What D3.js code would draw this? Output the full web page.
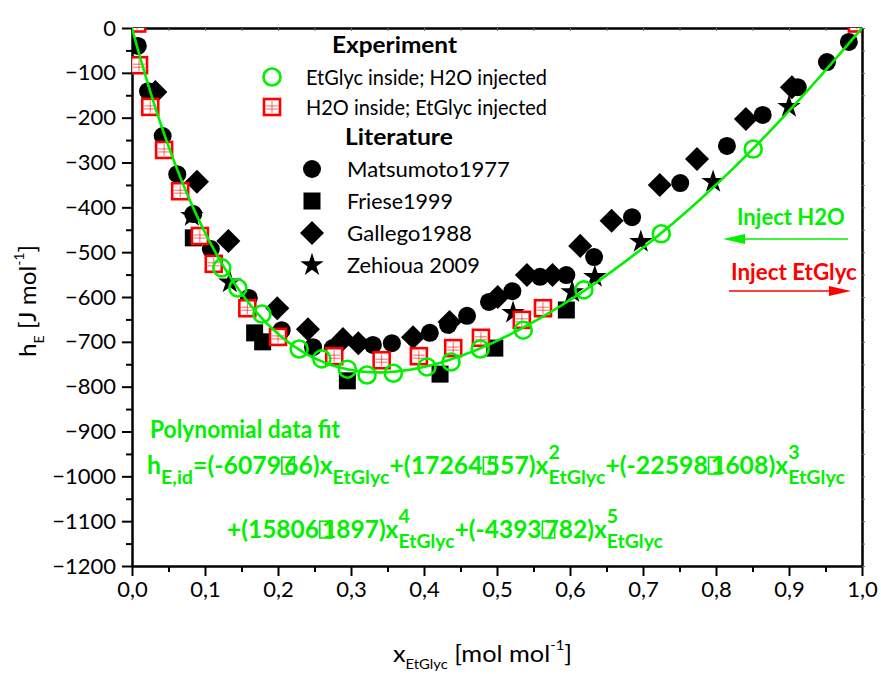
<!DOCTYPE html>
<html>
<head>
<meta charset="utf-8">
<script src="https://cdn.jsdelivr.net/npm/d3@7"></script>
<style>
  body { margin: 0; background: #fff; }
  svg { display: block; }
  text { white-space: pre; }
</style>
</head>
<body>
<svg id="chart" width="881" height="674"></svg>
<script>
// ---- Experimental excess enthalpy data (x in mol/mol, hE in J/mol) ----
const expEtGlycInside = [ // EtGlyc inside; H2O injected
  [0.123,-535],[0.145,-580],[0.178,-638],[0.229,-716],[0.260,-738],[0.295,-761],
  [0.322,-774],[0.358,-770],[0.404,-756],[0.437,-745],[0.477,-716],[0.536,-674],
  [0.619,-584],[0.725,-459],[0.851,-270]
];
const expH2OInside = [ // H2O inside; EtGlyc injected
  [0.007,10],[0.0096,-83],[0.025,-176],[0.044,-272],[0.066,-364],[0.093,-464],
  [0.112,-526],[0.158,-625],[0.200,-689],[0.277,-732],[0.342,-741],[0.393,-732],
  [0.440,-714],[0.478,-691],[0.534,-651],[0.563,-625],[0.993,10]
];
// ---- Literature data ----
const matsumoto1977 = [
  [0.008,-40],[0.022,-141],[0.042,-241],[0.062,-326],[0.084,-415],[0.108,-493],
  [0.160,-602],[0.205,-674],[0.248,-712],[0.275,-714],[0.330,-707],[0.356,-703],
  [0.408,-680],[0.433,-662],[0.459,-642],[0.489,-611],[0.521,-587],[0.559,-555],
  [0.595,-551],[0.633,-511],[0.685,-422],[0.751,-346],[0.815,-263],[0.864,-194],
  [0.912,-132],[0.952,-76],[0.982,-31]
];
const friese1999 = [
  [0.084,-468],[0.168,-680],[0.179,-700],[0.295,-787],[0.422,-772],[0.497,-714],[0.595,-629]
];
const gallego1988 = [
  [0.032,-143],[0.089,-343],[0.132,-475],[0.199,-625],[0.241,-672],[0.289,-694],
  [0.310,-703],[0.385,-690],[0.435,-656],[0.501,-600],[0.541,-551],[0.576,-551],
  [0.614,-486],[0.657,-430],[0.723,-350],[0.774,-292],[0.841,-203],[0.904,-132]
];
const zehioua2009 = [
  [0.082,-419],[0.134,-567],[0.522,-635],[0.603,-589],[0.634,-555],[0.697,-477],
  [0.796,-343],[0.900,-176]
];
// ---- Fifth-order polynomial fit hE = sum a_i x^i ----
const fitCoeffs = [-6079, 17264, -22598, 15806, -4393];
// ---- Axis ticks ----
const xMajor = [0,0.1,0.2,0.3,0.4,0.5,0.6,0.7,0.8,0.9,1.0];
const xTickLabels = ["0,0","0,1","0,2","0,3","0,4","0,5","0,6","0,7","0,8","0,9","1,0"];
const xMinor = [0.05,0.15,0.25,0.35,0.45,0.55,0.65,0.75,0.85,0.95];
const yMajor = [0,-100,-200,-300,-400,-500,-600,-700,-800,-900,-1000,-1100,-1200];
const yMinor = [-50,-150,-250,-350,-450,-550,-650,-750,-850,-950,-1050,-1150];

const GREEN = "#00f000", RED = "#ff0000";
const FONT = "Lato, 'Open Sans', sans-serif";

const svg = d3.select("#chart");
const x = d3.scaleLinear().domain([0, 1]).range([132, 862]);
const y = d3.scaleLinear().domain([-1200, 0]).range([566, 28]);

svg.append("defs").append("clipPath").attr("id", "plotClip")
  .append("rect").attr("x", x(0)).attr("y", y(0))
  .attr("width", x(1) - x(0)).attr("height", y(-1200) - y(0));

// ---- Axes ----
function styleAxis(g) {
  g.selectAll("path.domain").attr("stroke", "#000").attr("stroke-width", 2.5);
  g.selectAll(".tick line").attr("stroke", "#000").attr("stroke-width", 2);
  g.selectAll(".tick text").attr("fill", "#000").style("font-family", FONT).style("font-size", "22px");
}
const gx = svg.append("g").attr("transform", `translate(0,${y(-1200)})`)
  .call(d3.axisBottom(x).tickValues(xMajor).tickSize(10).tickSizeOuter(0).tickPadding(5)
    .tickFormat((d, i) => xTickLabels[i]));
styleAxis(gx);
const gxm = svg.append("g").attr("transform", `translate(0,${y(-1200)})`)
  .call(d3.axisBottom(x).tickValues(xMinor).tickSize(6).tickSizeOuter(0).tickFormat(""));
styleAxis(gxm); gxm.select("path.domain").remove();

const gy = svg.append("g").attr("transform", `translate(${x(0)},0)`)
  .call(d3.axisLeft(y).tickValues(yMajor).tickSize(10).tickSizeOuter(0).tickPadding(6)
    .tickFormat(d3.format("d")));
styleAxis(gy);
const gym = svg.append("g").attr("transform", `translate(${x(0)},0)`)
  .call(d3.axisLeft(y).tickValues(yMinor).tickSize(6).tickSizeOuter(0).tickFormat(""));
styleAxis(gym); gym.select("path.domain").remove();

// top and right frame with small ticks
const gt = svg.append("g").attr("transform", `translate(0,${y(0)})`)
  .call(d3.axisTop(x).tickValues(xMajor.concat(xMinor)).tickSize(-3).tickSizeOuter(0).tickFormat(""));
styleAxis(gt); gt.selectAll(".tick line").attr("stroke-width", 1).attr("stroke", "#666");
const gr = svg.append("g").attr("transform", `translate(${x(1)},0)`)
  .call(d3.axisRight(y).tickValues(yMajor.concat(yMinor)).tickSize(3).tickSizeOuter(0).tickFormat(""));
styleAxis(gr); gr.selectAll(".tick line").attr("stroke-width", 1).attr("stroke", "#666");

// ---- Marker helpers ----
const sym = {
  circle: d3.symbol().type(d3.symbolCircle).size(Math.PI * 9 * 9),
  square: d3.symbol().type(d3.symbolSquare).size(17 * 17),
  diamond: d3.symbol().type(d3.symbolSquare).size(17 * 17),
  star: d3.symbol().type(d3.symbolStar).size(170)
};
function drawBlack(g, data, kind) {
  g.selectAll(null).data(data).enter().append("path")
    .attr("d", sym[kind])
    .attr("transform", d => `translate(${x(d[0])},${y(d[1])})` + (kind === "diamond" ? " rotate(45)" : ""))
    .attr("fill", "#000");
}
function drawRedSquare(g, cx, cy) {
  const s = g.append("g").attr("transform", `translate(${cx},${cy})`);
  s.append("rect").attr("x", -8).attr("y", -8).attr("width", 16).attr("height", 16)
    .attr("fill", "#fff").attr("stroke", RED).attr("stroke-width", 2.6);
  s.append("line").attr("x1", 0).attr("x2", 0).attr("y1", -6).attr("y2", 6)
    .attr("stroke", RED).attr("stroke-width", 1).attr("opacity", 0.6);
  s.append("line").attr("x1", -6).attr("x2", 6).attr("y1", -1).attr("y2", -1)
    .attr("stroke", RED).attr("stroke-width", 1).attr("opacity", 0.6);
  s.append("line").attr("x1", -6).attr("x2", 6).attr("y1", 2).attr("y2", 2)
    .attr("stroke", RED).attr("stroke-width", 1).attr("opacity", 0.6);
}
function drawGreenCircle(g, cx, cy) {
  g.append("circle").attr("cx", cx).attr("cy", cy).attr("r", 8.5)
    .attr("fill", "none").attr("stroke", GREEN).attr("stroke-width", 2.6);
}

// ---- Data layer ----
const plot = svg.append("g").attr("clip-path", "url(#plotClip)");
drawBlack(plot, gallego1988, "diamond");
drawBlack(plot, friese1999, "square");
drawBlack(plot, zehioua2009, "star");
drawBlack(plot, matsumoto1977, "circle");
expH2OInside.forEach(d => drawRedSquare(plot, x(d[0]), y(d[1])));
expEtGlycInside.forEach(d => drawGreenCircle(plot, x(d[0]), y(d[1])));

const poly = t => fitCoeffs.reduce((s, a, i) => s + a * Math.pow(t, i + 1), 0);
const curve = d3.range(0, 1.0001, 0.0025).map(t => [t, poly(t)]);
plot.append("path").datum(curve)
  .attr("d", d3.line().x(d => x(d[0])).y(d => y(d[1])))
  .attr("fill", "none").attr("stroke", GREEN).attr("stroke-width", 2.6);

// ---- Rich text layout (sub/superscripts), fitted to a target width ----
// {box:1} draws the empty glyph box that the ± sign fell back to.
function richLine(parent, x0, base, pieces, opt) {
  const g = parent.append("g");
  const size = opt.size, small = opt.small || size * 0.8;
  const weight = opt.weight || "normal";
  const fill = opt.fill || "#000";
  let cx = x0;
  const put = (txt, px, py, fs) => g.append("text").attr("x", px).attr("y", py)
    .attr("fill", fill).style("font-family", FONT).style("font-size", fs + "px")
    .style("font-weight", weight).text(txt);
  pieces.forEach(p => {
    if (typeof p === "string") {
      const t = put(p, cx, base, size); cx += t.node().getComputedTextLength();
    } else if (p.box) {
      g.append("rect").attr("x", cx + size * 0.03).attr("y", base - size * 0.7)
        .attr("width", size * 0.5).attr("height", size * 0.7)
        .attr("fill", "none").attr("stroke", fill).attr("stroke-width", 1.6);
      cx += size * 0.12;
    } else {
      let w = 0;
      if (p.sup) { const t = put(p.sup, cx, base - size * (opt.supRise || 0.6), small); w = Math.max(w, t.node().getComputedTextLength()); }
      if (p.sub) { const t = put(p.sub, cx, base + size * (opt.subDrop || 0.42), small); w = Math.max(w, t.node().getComputedTextLength()); }
      cx += w;
    }
  });
  if (opt.width) {
    const k = opt.width / (cx - x0);
    g.attr("transform", `translate(${x0},0) scale(${k},1) translate(${-x0},0)`);
  }
  return g;
}

// ---- Axis titles ----
richLine(svg, 393, 662, ["x", {sub: "EtGlyc"}, " [mol mol", {sup: "-1"}, "]"],
  {size: 24, small: 14, width: 179, subDrop: 0.3, supRise: 0.5});
const yt = svg.append("g").attr("transform", "translate(36,0) rotate(-90)");
richLine(yt, -357, 0, ["h", {sub: "E"}, " [J mol", {sup: "-1"}, "]"],
  {size: 24, small: 14, width: 112, subDrop: 0.35, supRise: 0.5});

// ---- Legend ----
const legend = svg.append("g");
const legText = (tx, ty, s, w, bold) => richLine(legend, tx, ty, [s],
  {size: 22, weight: bold ? "bold" : "normal", width: w});
legText(332, 53, "Experiment", 125, true);
drawGreenCircle(legend, 272, 77);
legText(306, 85, "EtGlyc inside; H2O injected", 241);
drawRedSquare(legend, 272, 107);
legText(306, 115, "H2O inside; EtGlyc injected", 241);
legText(345, 145, "Literature", 108, true);
const legSym = [["circle", 169, "Matsumoto1977", 163], ["square", 201, "Friese1999", 106],
                ["diamond", 233, "Gallego1988", 125], ["star", 265, "Zehioua 2009", 133]];
legSym.forEach(([k, ly, label, w]) => {
  legend.append("path").attr("d", sym[k])
    .attr("transform", `translate(312,${ly})` + (k === "diamond" ? " rotate(45)" : ""))
    .attr("fill", "#000");
  legText(347, ly + 8, label, w);
});

// ---- Injection direction arrows ----
richLine(svg, 737, 225, ["Inject H2O"], {size: 22, weight: "bold", fill: GREEN, width: 108});
svg.append("line").attr("x1", 848).attr("x2", 738).attr("y1", 239).attr("y2", 239)
  .attr("stroke", GREEN).attr("stroke-width", 1.6);
svg.append("path").attr("d", "M723,239 L745,234 L745,244 Z").attr("fill", GREEN);
richLine(svg, 731, 280, ["Inject EtGlyc"], {size: 22, weight: "bold", fill: RED, width: 126});
svg.append("line").attr("x1", 729).attr("x2", 836).attr("y1", 291).attr("y2", 291)
  .attr("stroke", RED).attr("stroke-width", 1.6);
svg.append("path").attr("d", "M851,291 L829,286 L829,296 Z").attr("fill", RED);

// ---- Fit equation ----
const fitOpt = {size: 24, small: 19, weight: "bold", fill: GREEN, subDrop: 0.4, supRise: 0.62};
richLine(svg, 150, 438, ["Polynomial data fit"], Object.assign({}, fitOpt, {width: 190}));
richLine(svg, 147, 474, ["h", {sub: "E,id"}, "=(-6079", {box: 1}, "66)x", {sub: "EtGlyc"},
  "+(17264", {box: 1}, "557)x", {sup: "2", sub: "EtGlyc"},
  "+(-22598", {box: 1}, "1608)x", {sup: "3", sub: "EtGlyc"}],
  Object.assign({}, fitOpt, {width: 698}));
richLine(svg, 227, 538, ["+(15806", {box: 1}, "1897)x", {sup: "4", sub: "EtGlyc"},
  "+(-4393", {box: 1}, "782)x", {sup: "5", sub: "EtGlyc"}],
  Object.assign({}, fitOpt, {width: 436}));
</script>
</body>
</html>
